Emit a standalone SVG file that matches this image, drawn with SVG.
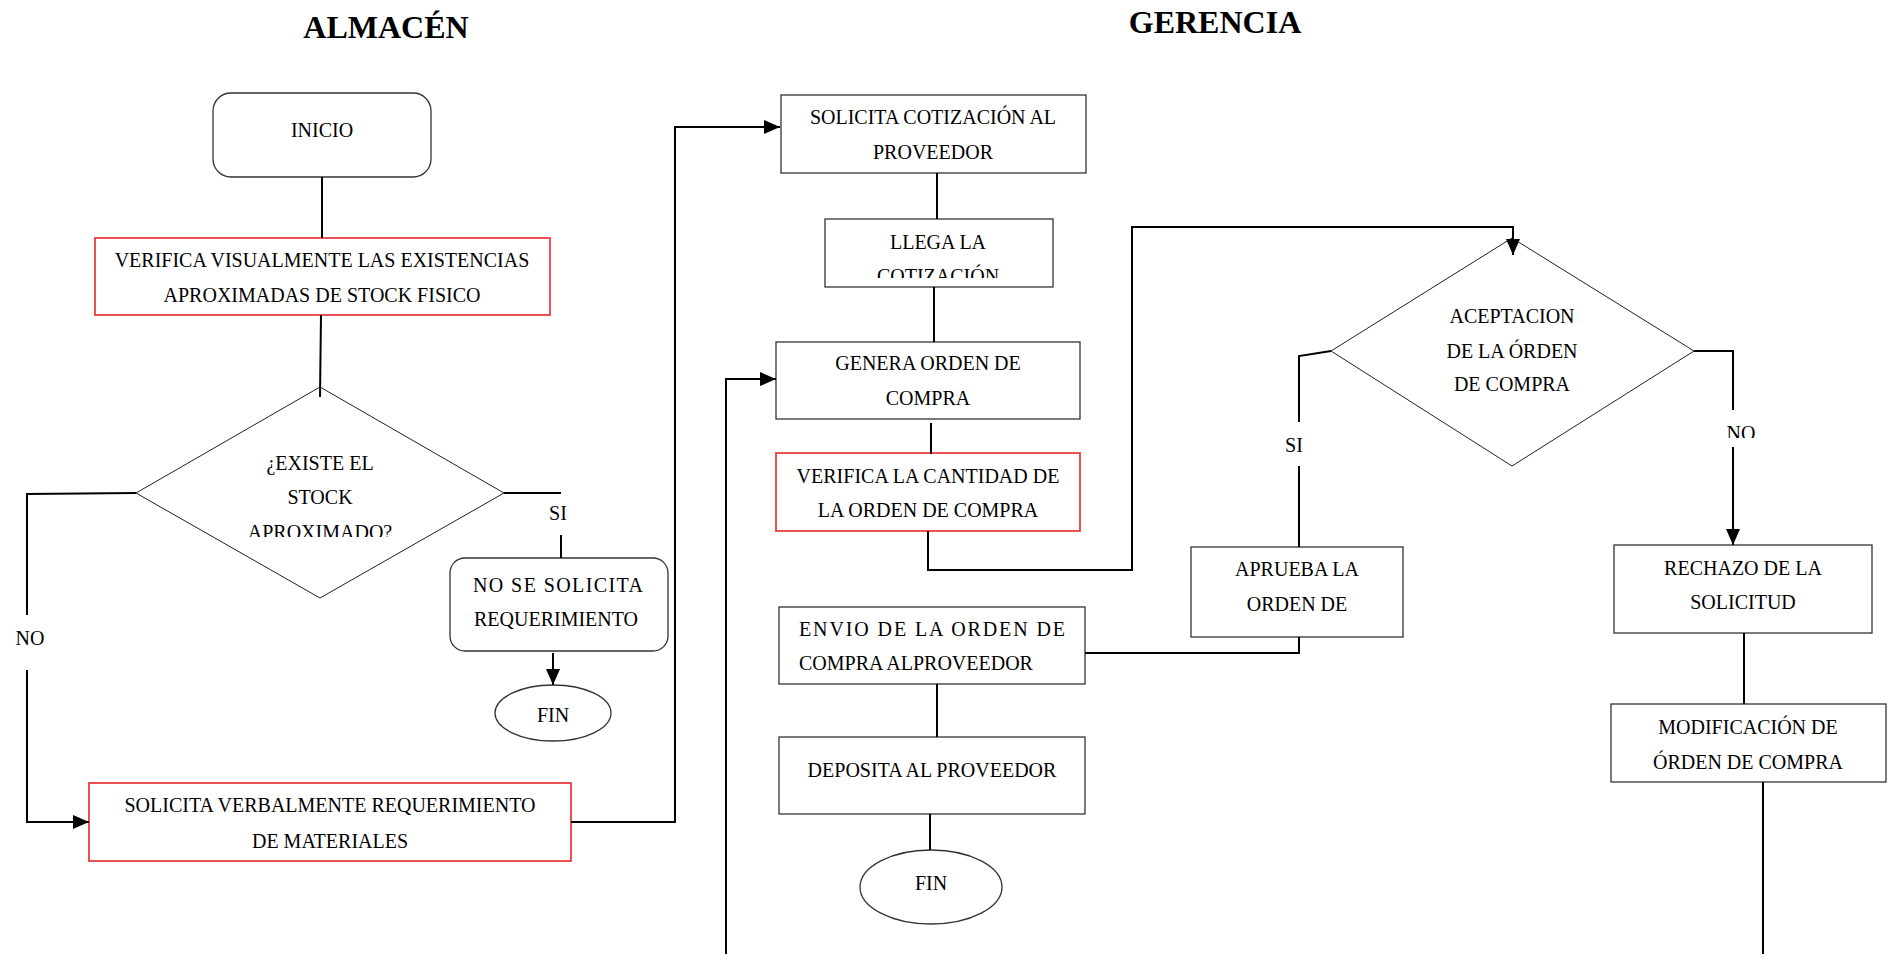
<svg xmlns="http://www.w3.org/2000/svg" width="1889" height="954" viewBox="0 0 1889 954">
  <style>
    .t { font-family: "Liberation Serif", "Times New Roman", serif; font-size: 20px; fill: #000; text-anchor: middle; }
    .h { font-family: "Liberation Serif", "Times New Roman", serif; font-size: 32px; font-weight: bold; fill: #000; text-anchor: middle; }
    .box { fill: #fff; stroke: #333; stroke-width: 1.3; }
    .red { fill: #fff; stroke: #e8262b; stroke-width: 1.6; }
    .dia { fill: #fff; stroke: #222; stroke-width: 1; }
    .wire { fill: none; stroke: #000; stroke-width: 2; }
  </style>
  <defs>
    <marker id="arrow" viewBox="0 0 16 14" refX="16" refY="7" markerWidth="16" markerHeight="14" markerUnits="userSpaceOnUse" orient="auto">
      <path d="M0,0 L16,7 L0,14 z" fill="#000"/>
    </marker>
    <clipPath id="clipStock"><rect x="140" y="380" width="360" height="157"/></clipPath>
    <clipPath id="clipLlega"><rect x="825" y="219" width="228" height="59"/></clipPath>
    <clipPath id="clipNo"><rect x="1700" y="400" width="80" height="38"/></clipPath>
  </defs>

  <rect width="1889" height="954" fill="#fff"/>

  <!-- lane titles -->
  <text class="h" x="386" y="38">ALMACÉN</text>
  <text class="h" x="1215" y="33">GERENCIA</text>

  <g id="inicio">
    <rect class="box" x="213" y="93" width="218" height="84" rx="18" ry="18"/>
    <text class="t" x="322" y="137">INICIO</text>
  </g>

  <g id="verifica-visual">
    <rect class="red" x="95" y="238" width="455" height="77"/>
    <text class="t" x="322" y="267">VERIFICA VISUALMENTE LAS EXISTENCIAS</text>
    <text class="t" x="322" y="302">APROXIMADAS DE STOCK FISICO</text>
  </g>

  <g id="existe-stock">
    <polygon class="dia" points="320,387 504,493 320,598 136,493"/>
    <g clip-path="url(#clipStock)">
      <text class="t" x="320" y="470">¿EXISTE EL</text>
      <text class="t" x="320" y="504">STOCK</text>
      <text class="t" x="320" y="539">APROXIMADO?</text>
    </g>
  </g>

  <g id="label-si-1"><text class="t" x="558" y="520">SI</text></g>
  <g id="label-no-1"><text class="t" x="30" y="645">NO</text></g>

  <g id="no-solicita">
    <rect class="box" x="450" y="558" width="218" height="93" rx="15" ry="15"/>
    <text class="t" x="558" y="592" textLength="170" lengthAdjust="spacing">NO  SE  SOLICITA</text>
    <text class="t" x="556" y="626">REQUERIMIENTO</text>
  </g>

  <g id="fin-1">
    <ellipse class="box" cx="553" cy="713" rx="58" ry="28"/>
    <text class="t" x="553" y="722">FIN</text>
  </g>

  <g id="solicita-verbal">
    <rect class="red" x="89" y="783" width="482" height="78"/>
    <text class="t" x="330" y="812">SOLICITA VERBALMENTE REQUERIMIENTO</text>
    <text class="t" x="330" y="848">DE MATERIALES</text>
  </g>

  <g id="solicita-cotizacion">
    <rect class="box" x="781" y="95" width="305" height="78"/>
    <text class="t" x="933" y="124">SOLICITA COTIZACIÓN AL</text>
    <text class="t" x="933" y="159">PROVEEDOR</text>
  </g>

  <g id="llega-cotizacion">
    <rect class="box" x="825" y="219" width="228" height="68"/>
    <g clip-path="url(#clipLlega)">
      <text class="t" x="938" y="249">LLEGA LA</text>
      <text class="t" x="938" y="283">COTIZACIÓN</text>
    </g>
  </g>

  <g id="genera-orden">
    <rect class="box" x="776" y="342" width="304" height="77"/>
    <text class="t" x="928" y="370">GENERA ORDEN DE</text>
    <text class="t" x="928" y="405">COMPRA</text>
  </g>

  <g id="verifica-cantidad">
    <rect class="red" x="776" y="453" width="304" height="78"/>
    <text class="t" x="928" y="483">VERIFICA LA CANTIDAD DE</text>
    <text class="t" x="928" y="517">LA ORDEN DE COMPRA</text>
  </g>

  <g id="envio-orden">
    <rect class="box" x="779" y="607" width="306" height="77"/>
    <text class="t" x="932" y="636" textLength="266" lengthAdjust="spacing">ENVIO  DE  LA  ORDEN  DE</text>
    <text class="t" x="799" y="670" style="text-anchor:start">COMPRA ALPROVEEDOR</text>
  </g>

  <g id="deposita">
    <rect class="box" x="779" y="737" width="306" height="77"/>
    <text class="t" x="932" y="777">DEPOSITA AL PROVEEDOR</text>
  </g>

  <g id="fin-2">
    <ellipse class="box" cx="931" cy="887" rx="71" ry="37"/>
    <text class="t" x="931" y="890">FIN</text>
  </g>

  <g id="aceptacion">
    <polygon class="dia" points="1512,238 1694,351 1512,466 1331,351"/>
    <text class="t" x="1512" y="323">ACEPTACION</text>
    <text class="t" x="1512" y="358">DE LA ÓRDEN</text>
    <text class="t" x="1512" y="391">DE COMPRA</text>
  </g>

  <g id="label-si-2"><text class="t" x="1294" y="452">SI</text></g>
  <g id="label-no-2" clip-path="url(#clipNo)"><text class="t" x="1741" y="440">NO</text></g>

  <g id="aprueba">
    <rect class="box" x="1191" y="547" width="212" height="90"/>
    <text class="t" x="1297" y="576">APRUEBA LA</text>
    <text class="t" x="1297" y="611">ORDEN DE</text>
  </g>

  <g id="rechazo">
    <rect class="box" x="1614" y="545" width="258" height="88"/>
    <text class="t" x="1743" y="575">RECHAZO DE LA</text>
    <text class="t" x="1743" y="609">SOLICITUD</text>
  </g>

  <g id="modificacion">
    <rect class="box" x="1611" y="704" width="275" height="78"/>
    <text class="t" x="1748" y="734">MODIFICACIÓN DE</text>
    <text class="t" x="1748" y="769">ÓRDEN DE COMPRA</text>
  </g>

  <!-- connectors, drawn last so arrowheads sit on top of the shapes -->
  <g id="connectors">
    <line class="wire" x1="322" y1="177" x2="322" y2="238"/>
    <line class="wire" x1="321" y1="315" x2="320" y2="397"/>
    <!-- NO branch of stock decision -->
    <polyline class="wire" points="136,493 27,494 27,615"/>
    <polyline class="wire" points="27,670 27,822 89,822" marker-end="url(#arrow)"/>
    <!-- SI branch of stock decision -->
    <line class="wire" x1="504" y1="493" x2="561" y2="493"/>
    <line class="wire" x1="561" y1="535" x2="561" y2="558"/>
    <line class="wire" x1="553" y1="653" x2="553" y2="685" marker-end="url(#arrow)"/>
    <!-- request to quotation -->
    <polyline class="wire" points="571,822 675,822 675,127 780,127" marker-end="url(#arrow)"/>
    <line class="wire" x1="937" y1="173" x2="937" y2="219"/>
    <line class="wire" x1="934" y1="287" x2="934" y2="342"/>
    <line class="wire" x1="931" y1="423" x2="931" y2="454"/>
    <!-- quantity check to acceptance decision -->
    <polyline class="wire" points="928,531 928,570 1132,570 1132,227 1513,227 1513,255" marker-end="url(#arrow)"/>
    <!-- return loop into purchase order -->
    <polyline class="wire" points="726,954 726,379 776,379" marker-end="url(#arrow)"/>
    <!-- SI branch of acceptance -->
    <polyline class="wire" points="1331,351 1299,356 1299,422"/>
    <line class="wire" x1="1299" y1="466" x2="1299" y2="547"/>
    <polyline class="wire" points="1299,637 1299,653 1085,653"/>
    <!-- NO branch of acceptance -->
    <polyline class="wire" points="1694,351 1733,351 1733,410"/>
    <line class="wire" x1="1733" y1="447" x2="1733" y2="545" marker-end="url(#arrow)"/>
    <line class="wire" x1="1744" y1="633" x2="1744" y2="704"/>
    <line class="wire" x1="1763" y1="782" x2="1763" y2="954"/>
    <!-- send order to deposit and end -->
    <line class="wire" x1="937" y1="684" x2="937" y2="737"/>
    <line class="wire" x1="930" y1="814" x2="930" y2="850"/>
  </g>
</svg>
